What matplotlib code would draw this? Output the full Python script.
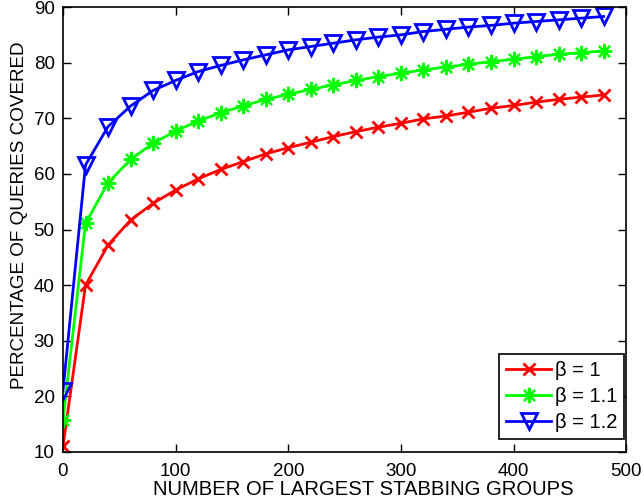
import matplotlib
matplotlib.use("Agg")
import matplotlib.pyplot as plt

x = [0, 20, 40, 60, 80, 100, 120, 140, 160, 180, 200, 220, 240, 260, 280,
     300, 320, 340, 360, 380, 400, 420, 440, 460, 480]
beta_1 = [11.0, 40.0, 47.2, 51.7, 54.7, 57.1, 59.1, 60.8, 62.2, 63.6, 64.7, 65.7,
          66.7, 67.6, 68.4, 69.1, 69.9, 70.4, 71.1, 71.8, 72.3, 72.9, 73.4, 73.8, 74.2]
beta_11 = [15.8, 51.1, 58.4, 62.6, 65.5, 67.7, 69.5, 71.0, 72.2, 73.4, 74.3, 75.2,
           76.0, 76.8, 77.5, 78.1, 78.7, 79.2, 79.7, 80.2, 80.6, 81.1, 81.5, 81.8, 82.1]
beta_12 = [21.0, 61.6, 68.5, 72.2, 75.0, 76.8, 78.4, 79.5, 80.5, 81.4, 82.3, 82.9,
           83.5, 84.1, 84.6, 85.0, 85.6, 86.0, 86.4, 86.7, 87.1, 87.4, 87.7, 88.0, 88.3]
labels = ["\u03b2 = 1", "\u03b2 = 1.1", "\u03b2 = 1.2"]

plt.rcParams['font.family'] = ['Liberation Sans', 'DejaVu Sans']

fig = plt.figure(figsize=(6.44, 5.03), dpi=100)
ax = fig.add_axes([0.0978, 0.1014, 0.8745, 0.8846])

ax.plot(x, beta_1, color='#ff0000', lw=2, marker='x', ms=9, mew=2, label=labels[0])
ax.plot(x, beta_11, color='#00ff00', lw=2, marker=(8, 2, 0), ms=11, mew=1.6, label=labels[1])
ax.plot(x, beta_12, color='#0000ff', lw=2, marker='v', ms=12, mew=2, mfc='none', label=labels[2])

ax.set_xlim(0, 500)
ax.set_ylim(10, 90)
ax.set_xticks(range(0, 501, 100))
ax.set_yticks(range(10, 91, 10))
ax.tick_params(direction='in', top=True, right=True, labelsize=13.5, length=6, width=1)
ax.tick_params(axis='x', pad=8)
ax.tick_params(axis='y', pad=6)
for s in ax.spines.values():
    s.set_linewidth(1.2)

ax.set_xlabel("NUMBER OF LARGEST STABBING GROUPS", fontsize=14.6, labelpad=0)
ax.set_ylabel("PERCENTAGE OF QUERIES COVERED", fontsize=13.6, labelpad=4)
ax.xaxis.label.set_x(0.533)
ax.yaxis.label.set_y(0.531)

leg = ax.legend(loc='lower right', bbox_to_anchor=(0.9964, 0.0292), fontsize=14.5,
                frameon=True, fancybox=False, edgecolor='black', framealpha=1,
                handlelength=2.2, borderpad=0.35, labelspacing=0.35,
                handletextpad=0.2, borderaxespad=0)
leg.get_frame().set_linewidth(1.2)

fig.savefig("out.png", dpi=100)
